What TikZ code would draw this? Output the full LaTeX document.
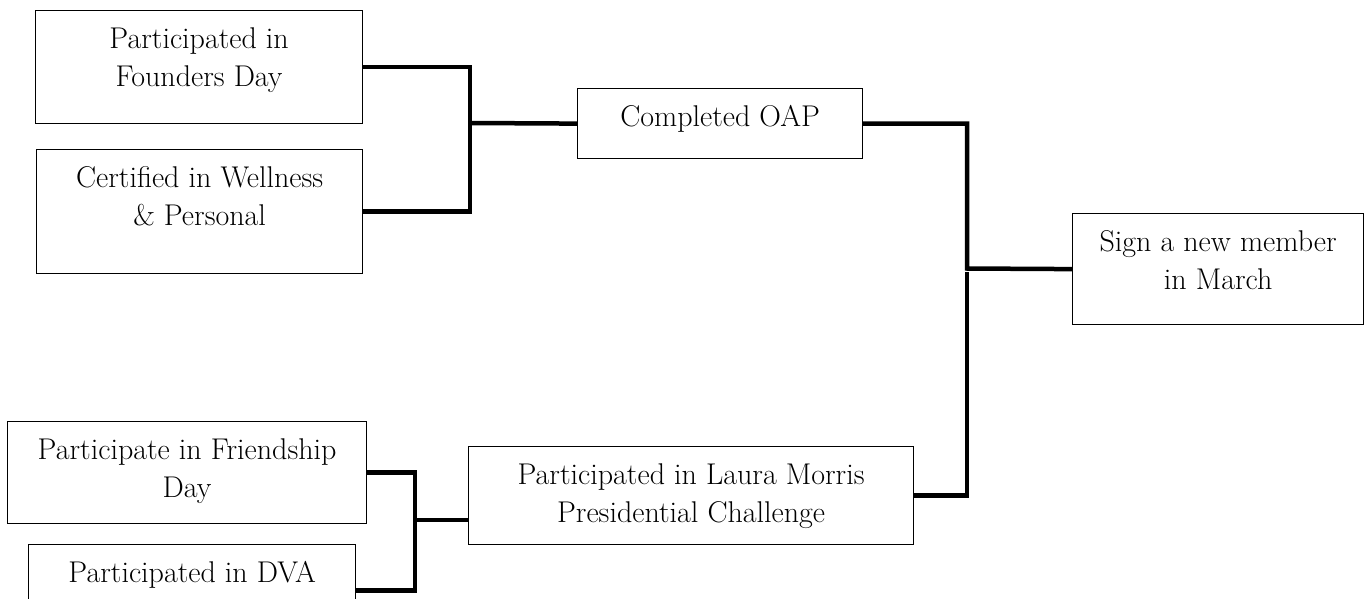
\documentclass[tikz,border=0pt]{standalone}
\usepackage{xcolor}
\usetikzlibrary{calc}

\newcommand{\boxtxt}[3]{\parbox[c][#2pt][t]{#1pt}{\centering\rule{0pt}{38pt}#3}}

\tikzset{
    boxnode/.style={draw, line width=1.2pt, inner sep=0pt, anchor=north west},
    link/.style={line width=4.5pt}
}

\begin{document}
\begin{tikzpicture}[x=1pt, y=-1pt, font=\fontsize{30}{38}\selectfont]
        \useasboundingbox (0,0) rectangle (1364,599);
        \clip (0,0) rectangle (1364,599);

        \node[boxnode] (founders) at (35,10) {\boxtxt{327}{113}{Participated in\\Founders Day}};
        \node[boxnode] (wellness) at (36,149) {\boxtxt{326}{124}{Certified in Wellness\\\& Personal}};
        \node[boxnode] (oap) at (577,88) {\boxtxt{285}{70}{Completed OAP}};
        \node[boxnode] (member) at (1072,213) {\boxtxt{291}{111}{Sign a new member\\in March}};
        \node[boxnode] (friend) at (7,421) {\boxtxt{359}{102}{Participate in Friendship\\Day}};
        \node[boxnode] (challenge) at (468,446) {\boxtxt{445}{98}{Participated in Laura Morris\\Presidential Challenge}};
        \node[boxnode] (dva) at (28,544) {\boxtxt{327}{92}{Participated in DVA}};

        \coordinate (j1) at (470,123);
        \coordinate (j2) at (967,268.5);
        \coordinate (j3) at (967,272);
        \coordinate (j4) at (415,520);

        \draw[link] (founders.east) -| (j1) |- (wellness.east);
        \draw[link] (j1) -- (oap.west);

        \draw[link] (oap.east) -| (j2) -- (member.west);
        \draw[link] (challenge.east) -| (j3);

        \draw[link] (friend.east) -| (j4);
        \draw[link] (dva.east) -| (j4);
        \draw[link] (j4) -- (challenge.west |- j4);
\end{tikzpicture}
\end{document}
